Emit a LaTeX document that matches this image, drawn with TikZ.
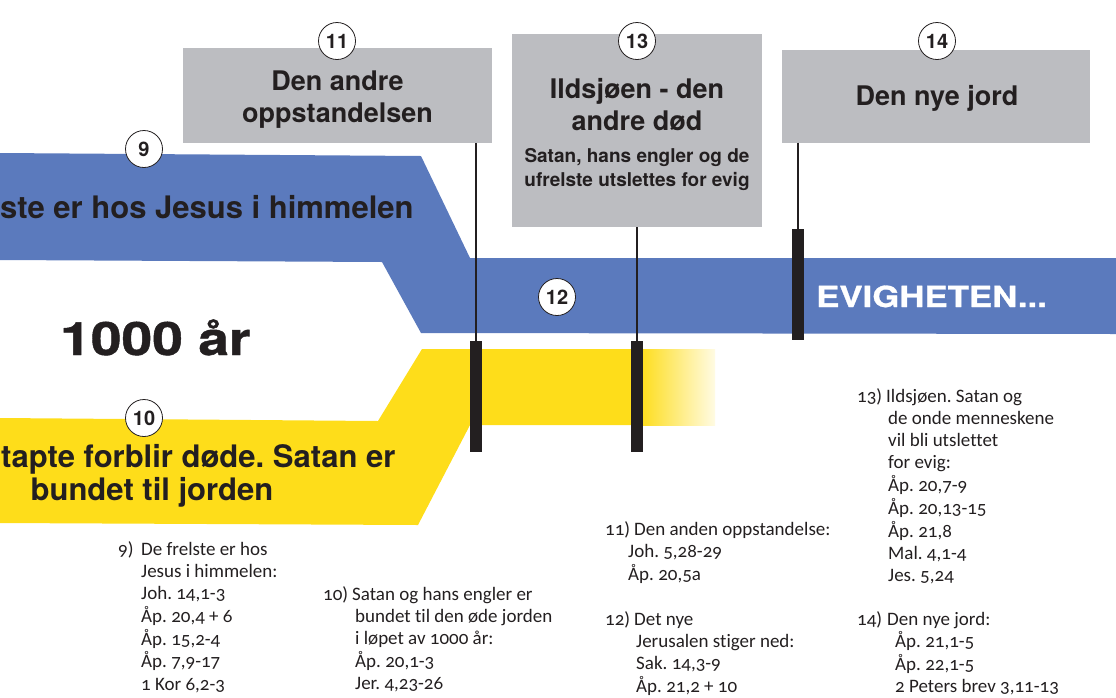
\documentclass[tikz,border=0pt]{standalone}
\usepackage{fontspec}
\setmainfont{TeX Gyre Heros}
\newfontfamily\reffont[Numbers=OldStyle,Ligatures=NoCommon]{Carlito}
\newfontfamily\heavyfont[FakeStretch=1.2,FakeBold=1]{texgyreheros-bold.otf}
\usetikzlibrary{positioning}
\definecolor{bandblue}{RGB}{91,122,189}
\definecolor{sunyellow}{RGB}{254,221,26}
\definecolor{boxgray}{RGB}{188,189,193}
\definecolor{inkblack}{RGB}{35,31,32}
\frenchspacing

\begin{document}
\begin{tikzpicture}[x=1pt,y=-1pt,
  numcircle/.style={circle, draw=inkblack, line width=0.8pt, fill=white, inner sep=0pt,
    minimum size=37pt, text=inkblack, font=\fontsize{20}{20}\selectfont\bfseries},
  graybox/.style={rectangle, fill=boxgray, inner sep=0pt},
  boxtitle/.style={inner sep=0pt, align=center, text=inkblack,
    font=\fontsize{27}{32}\selectfont\bfseries},
  bandtext/.style={inner sep=0pt, text=inkblack, font=\fontsize{31}{33}\selectfont\bfseries},
  stembar/.style={fill=inkblack, inner sep=0pt, minimum width=12pt, minimum height=111pt},
  hangline/.style={draw=inkblack, line width=2pt},
  reflist/.style={inner sep=0pt, anchor=base west, text=inkblack,
    font=\reffont\fontsize{19}{22.3}\selectfont}]
  \useasboundingbox (0,0) rectangle (1116,697);
  \clip (0,0) rectangle (1116,697);

  % Yellow band
  \fill[sunyellow] (0,418) -- (378,421) -- (422,349) -- (641,349) -- (641,425)
    -- (470,425) -- (418,525) -- (0,523) -- cycle;
  \shade[left color=sunyellow, right color=sunyellow!12] (640,349) rectangle (715,425);

  % Blue band
  \fill[bandblue] (0,153) -- (421,156) -- (470,258) -- (1116,258) -- (1116,334)
    -- (421,333) -- (382,262) -- (0,260) -- cycle;

  % Gray boxes
  \node[graybox, minimum width=309pt, minimum height=95pt] (box11) at (337.5,95.5) {};
  \node[graybox, minimum width=250pt, minimum height=193pt] (box13) at (637,130.5) {};
  \node[graybox, minimum width=308pt, minimum height=93pt] (box14) at (936,96) {};
  \node[boxtitle] (title11) at (337.5,100) {Den andre\\oppstandelsen};
  \node[boxtitle] (title13) at (637,104.5) {Ildsjøen - den\\andre død};
  \node[boxtitle, font=\fontsize{19}{24}\selectfont\bfseries] (note13) at (637,170)
    {Satan, hans engler og de\\ufrelste utslettes for evig};
  \node[boxtitle] (title14) at (937,98) {Den nye jord};

  % Bars and hanging lines
  \node[stembar] (bar11) at (476,396.5) {};
  \node[stembar] (bar13) at (637,396.5) {};
  \node[stembar] (bar14) at (798,284.5) {};
  \draw[hangline] (box11.south -| bar11) -- (bar11.north);
  \draw[hangline] (box13.south) -- (bar13.north);
  \draw[hangline] (box14.south -| bar14) -- (bar14.north);

  % Band texts
  \node[bandtext, anchor=base west] (heaven) at (0,218) {ste er hos Jesus i himmelen};
  \node[bandtext, anchor=base west] (lost) at (1,467) {tapte forblir døde. Satan er};
  \node[bandtext, anchor=base] (bound) at (152,500) {bundet til jorden};
  \node[inner sep=0pt, anchor=base west, text=inkblack,
    font=\heavyfont\fontsize{46}{46}\selectfont] (millennium) at (60,355) {1000 år};
  \node[inner sep=0pt, anchor=base west, text=white,
    font=\heavyfont\fontsize{29}{29}\selectfont] (eternity) at (816,307) {EVIGHETEN...};

  % Numbers
  \node[numcircle] (n9) at (144,149) {9};
  \node[numcircle] (n10) at (144,418) {10};
  \node[numcircle] (n11) at (337,41) {11};
  \node[numcircle] (n12) at (557,297) {12};
  \node[numcircle] (n13) at (637,41) {13};
  \node[numcircle] (n14) at (937,41) {14};

  % Bible references
  \node[reflist] (refs9) at (118,555) {\begin{tabular}[t]{@{}l@{}}
    \makebox[23pt][l]{9)}De frelste er hos\\
    \hspace*{23pt}Jesus i himmelen:\\
    \hspace*{23pt}Joh. 14,1-3\\
    \hspace*{23pt}Åp. 20,4 + 6\\
    \hspace*{23pt}Åp. 15,2-4\\
    \hspace*{23pt}Åp. 7,9-17\\
    \hspace*{23pt}1 Kor 6,2-3
  \end{tabular}};
  \node[reflist] (refs10) at (323,600) {\begin{tabular}[t]{@{}l@{}}
    \makebox[29pt][l]{10)}Satan og hans engler er\\
    \hspace*{32pt}bundet til den øde jorden\\
    \hspace*{32pt}i løpet av 1000 år:\\
    \hspace*{32pt}Åp. 20,1-3\\
    \hspace*{32pt}Jer. 4,23-26
  \end{tabular}};
  \node[reflist] (refs11) at (605,535) {\begin{tabular}[t]{@{}l@{}}
    \makebox[29pt][l]{11)}Den anden oppstandelse:\\
    \hspace*{23pt}Joh. 5,28-29\\
    \hspace*{23pt}Åp. 20,5a
  \end{tabular}};
  \node[reflist] (refs12) at (605,625) {\begin{tabular}[t]{@{}l@{}}
    \makebox[29pt][l]{12)}Det nye\\
    \hspace*{31pt}Jerusalen stiger ned:\\
    \hspace*{31pt}Sak. 14,3-9\\
    \hspace*{31pt}Åp. 21,2 + 10
  \end{tabular}};
  \node[reflist] (refs13) at (857,402) {\begin{tabular}[t]{@{}l@{}}
    \makebox[29pt][l]{13)}Ildsjøen. Satan og\\
    \hspace*{31pt}de onde menneskene\\
    \hspace*{31pt}vil bli utslettet\\
    \hspace*{31pt}for evig:\\
    \hspace*{31pt}Åp. 20,7-9\\
    \hspace*{31pt}Åp. 20,13-15\\
    \hspace*{31pt}Åp. 21,8\\
    \hspace*{31pt}Mal. 4,1-4\\
    \hspace*{31pt}Jes. 5,24
  \end{tabular}};
  \node[reflist] (refs14) at (857,625) {\begin{tabular}[t]{@{}l@{}}
    \makebox[30pt][l]{14)}Den nye jord:\\
    \hspace*{38pt}Åp. 21,1-5\\
    \hspace*{38pt}Åp. 22,1-5\\
    \hspace*{38pt}2 Peters brev 3,11-13
  \end{tabular}};
\end{tikzpicture}
\end{document}
